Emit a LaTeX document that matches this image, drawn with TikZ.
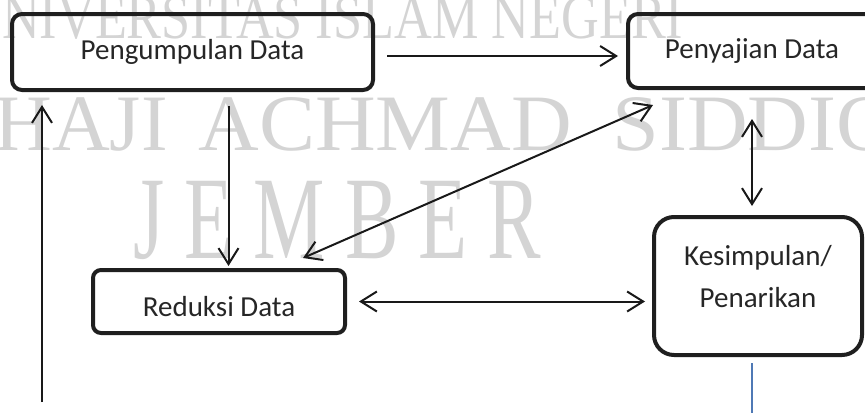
\documentclass[tikz,border=0pt]{standalone}
\usepackage{fontspec}
\setmainfont{Carlito}
\newfontfamily\wmfont{Liberation Serif}
\usetikzlibrary{arrows.meta}
\definecolor{blueline}{HTML}{4F79B5}
\begin{document}
\begin{tikzpicture}[x=0.5pt,y=-0.5pt,>={Straight Barb[length=8pt,width=10pt]},
    box/.style={draw=black!88,line width=2pt,rounded corners=5pt,inner sep=0pt,
        text=black!85,font=\fontsize{14.5}{21}\selectfont},
    flow/.style={line width=1pt,draw=black!90},
    wm/.style={text=black!17,anchor=base west,inner sep=0pt}]
    \useasboundingbox (0,0) rectangle (865,412);
    \clip (0,0) rectangle (865,412);
    \node[wm,xscale=0.83,font=\wmfont\fontsize{31.5}{31.5}\selectfont] (wmuniv) at (-36,38) {UNIVERSITAS ISLAM NEGERI};
    \node[wm,font=\wmfont\fontsize{40}{40}\selectfont] (wmhaji) at (-6,150) {HAJI};
    \node[wm,xscale=1.05,font=\wmfont\fontsize{40}{40}\selectfont] (wmachmad) at (198,150) {ACHMAD};
    \node[wm,xscale=1.05,font=\wmfont\fontsize{40}{40}\selectfont] (wmsiddiq) at (612,150) {SIDDIQ};
    \node[wm,xscale=0.68,font=\wmfont\fontsize{59}{59}\selectfont] (wmjember) at (133,258) {J E M B E R};
    \node[box,minimum width=180.5pt,minimum height=38pt] (kumpul) at (192.5,52) {Pengumpulan Data};
    \node[box,minimum width=124pt,minimum height=37pt] (saji) at (752,51) {Penyajian Data};
    \node[box,rounded corners=4pt,minimum width=126pt,minimum height=31.5pt,text height=15pt,text depth=0pt] (reduksi) at (219,301.5) {Reduksi Data};
    \node[box,rounded corners=10pt,align=center,minimum width=104pt,minimum height=69pt,text depth=10pt] (simpul) at (758,286) {Kesimpulan/\\Penarikan};
    \coordinate (start) at (42,402);
    \coordinate (tail) at (752,416);
    \draw[flow,->,shorten <=6pt,shorten >=4pt] ([yshift=-2pt]kumpul.east) -- ([yshift=-2pt]kumpul.east -| saji.west);
    \draw[flow,->,shorten <=7pt,shorten >=1pt] ([xshift=18pt]kumpul.south) -- ([xshift=18pt]kumpul.south |- reduksi.north);
    \draw[flow,<->] ([xshift=42pt,yshift=5pt]reduksi.north) -- ([xshift=13.5pt,yshift=-7.5pt]saji.south west);
    \draw[flow,<->,shorten <=6pt,shorten >=3.5pt] (reduksi.east) -- (reduksi.east -| simpul.west);
    \draw[flow,<->,shorten <=14.5pt,shorten >=4.5pt] (saji.south) -- (saji.south |- simpul.north);
    \draw[flow,->,shorten >=6.5pt] (start) -- (start |- kumpul.south);
    \draw[line width=1pt,draw=blueline] ([yshift=-3pt]simpul.south -| tail) -- (tail);
\end{tikzpicture}
\end{document}
